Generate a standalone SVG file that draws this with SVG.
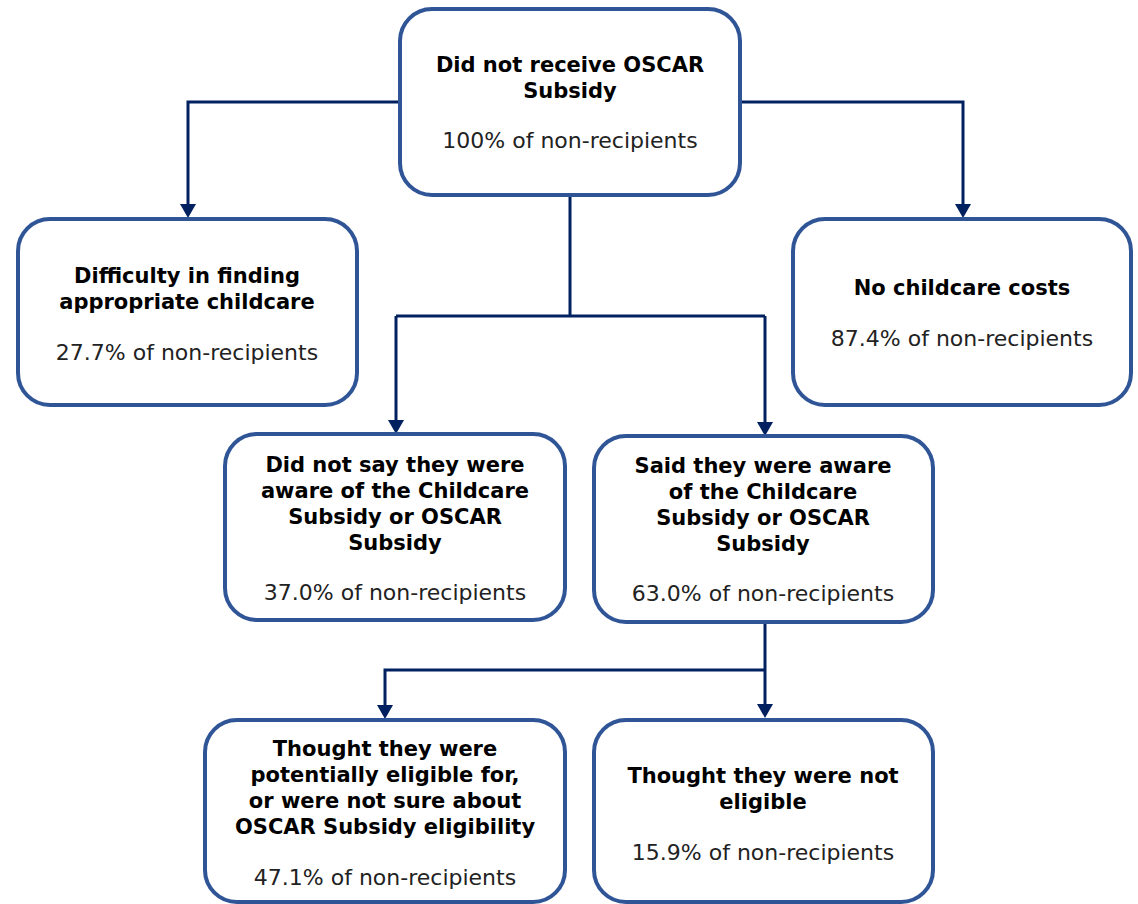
<svg xmlns="http://www.w3.org/2000/svg" width="1138" height="904" viewBox="0 0 1138 904">
<defs>
<style>
.box{fill:#fff;stroke:#2f5597;stroke-width:4}
.c{fill:none;stroke:#002060;stroke-width:3}
.ah{fill:#002060}
.b{font-family:"DejaVu Sans",Verdana,sans-serif;font-weight:bold;font-size:21px;fill:#000;text-anchor:middle}
.r{font-family:"DejaVu Sans",Verdana,sans-serif;font-size:22px;fill:#222;text-anchor:middle}
</style>
</defs>
<rect width="1138" height="904" fill="#fff"/>
<g id="connectors">
<path class="c" d="M400,102 H188 V204"/>
<path class="ah" d="M180,204 L196,204 L188,218 Z"/>
<path class="c" d="M740,102 H963 V204"/>
<path class="ah" d="M955,204 L971,204 L963,218 Z"/>
<path class="c" d="M570,195 V316"/>
<path class="c" d="M396,316 H765"/>
<path class="c" d="M396,316 V420"/>
<path class="ah" d="M388,420 L404,420 L396,434 Z"/>
<path class="c" d="M765,316 V422"/>
<path class="ah" d="M757,422 L773,422 L765,436 Z"/>
<path class="c" d="M765,622 V704"/>
<path class="ah" d="M757,704 L773,704 L765,718 Z"/>
<path class="c" d="M765,670 H385 V705"/>
<path class="ah" d="M377,705 L393,705 L385,719 Z"/>
</g>
<g id="n-root">
<rect class="box" x="400" y="9" width="340" height="186" rx="32"/>
<text class="b" x="570" y="72">Did not receive OSCAR</text>
<text class="b" x="570" y="98">Subsidy</text>
<text class="r" x="570" y="148">100% of non-recipients</text>
</g>
<g id="n-difficulty">
<rect class="box" x="18" y="219" width="339" height="186" rx="32"/>
<text class="b" x="187" y="283">Difficulty in finding</text>
<text class="b" x="187" y="309">appropriate childcare</text>
<text class="r" x="187" y="360">27.7% of non-recipients</text>
</g>
<g id="n-nocost">
<rect class="box" x="793" y="219" width="338" height="186" rx="32"/>
<text class="b" x="962" y="295">No childcare costs</text>
<text class="r" x="962" y="346">87.4% of non-recipients</text>
</g>
<g id="n-notaware">
<rect class="box" x="225" y="434" width="340" height="186" rx="32"/>
<text class="b" x="395" y="472">Did not say they were</text>
<text class="b" x="395" y="498">aware of the Childcare</text>
<text class="b" x="395" y="524">Subsidy or OSCAR</text>
<text class="b" x="395" y="550">Subsidy</text>
<text class="r" x="395" y="600">37.0% of non-recipients</text>
</g>
<g id="n-aware">
<rect class="box" x="594" y="436" width="339" height="186" rx="32"/>
<text class="b" x="763" y="473">Said they were aware</text>
<text class="b" x="763" y="499">of the Childcare</text>
<text class="b" x="763" y="525">Subsidy or OSCAR</text>
<text class="b" x="763" y="551">Subsidy</text>
<text class="r" x="763" y="601">63.0% of non-recipients</text>
</g>
<g id="n-eligible">
<rect class="box" x="205" y="720" width="360" height="182" rx="32"/>
<text class="b" x="385" y="756">Thought they were</text>
<text class="b" x="385" y="782">potentially eligible for,</text>
<text class="b" x="385" y="808">or were not sure about</text>
<text class="b" x="385" y="834">OSCAR Subsidy eligibility</text>
<text class="r" x="385" y="885">47.1% of non-recipients</text>
</g>
<g id="n-noteligible">
<rect class="box" x="594" y="720" width="339" height="182" rx="32"/>
<text class="b" x="763" y="783">Thought they were not</text>
<text class="b" x="763" y="809">eligible</text>
<text class="r" x="763" y="860">15.9% of non-recipients</text>
</g>
</svg>
